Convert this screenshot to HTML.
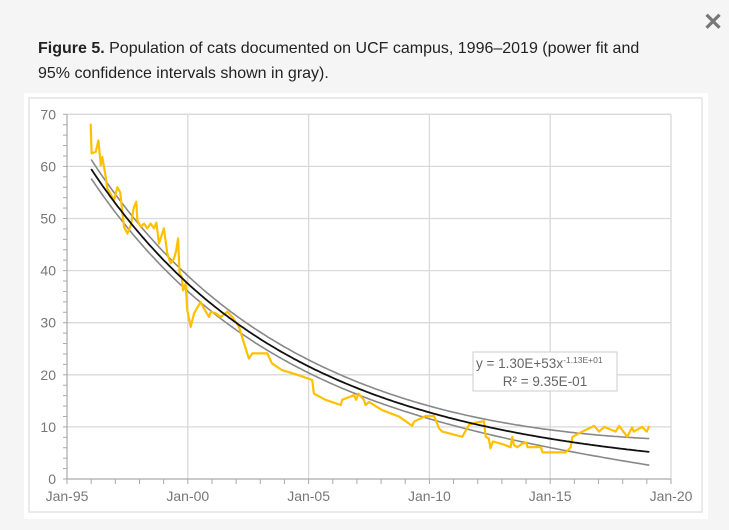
<!DOCTYPE html>
<html><head><meta charset="utf-8"><style>
html,body{margin:0;padding:0;width:729px;height:530px;background:#f5f5f5;overflow:hidden;font-family:"Liberation Sans",Arial,sans-serif}
#cap{position:absolute;left:38px;top:36px;width:615px;font-size:16px;line-height:25px;color:#222}
#close{position:absolute;left:703px;top:8px;font-size:24px;color:#777;font-weight:bold}
#panel{position:absolute;left:24px;top:93px;width:684px;height:426px;background:#fff}
svg{position:absolute;left:0;top:0}
</style></head><body>
<div id="close">✕</div>
<div id="cap"><b>Figure 5.</b> Population of cats documented on UCF campus, 1996–2019 (power fit and 95% confidence intervals shown in gray).</div>
<div id="panel"></div>
<svg id="chart" width="729" height="530"></svg>
<script>
const yTicks=[0,10,20,30,40,50,60,70];
const xTickYears=[1995,2000,2005,2010,2015,2020];
const xTickLabels=["Jan-95","Jan-00","Jan-05","Jan-10","Jan-15","Jan-20"];
const catDates=[1995.98,1996.02,1996.19,1996.3,1996.4,1996.46,1996.6,1996.67,1996.95,1997.08,1997.2,1997.36,1997.5,1997.64,1997.77,1997.87,1997.91,1998.05,1998.19,1998.32,1998.46,1998.6,1998.7,1998.81,1999.01,1999.15,1999.29,1999.43,1999.52,1999.6,1999.64,1999.66,1999.75,1999.8,1999.91,1999.98,2000.12,2000.26,2000.53,2000.67,2000.88,2000.95,2001.15,2001.36,2001.64,2001.84,2002.12,2002.33,2002.53,2002.67,2003.29,2003.48,2003.9,2004.6,2005.15,2005.22,2005.7,2006.33,2006.39,2006.88,2006.97,2007.06,2007.29,2007.36,2007.5,2008.05,2008.74,2009.29,2009.36,2009.84,2010.19,2010.4,2010.53,2011.36,2011.64,2011.91,2012.26,2012.33,2012.46,2012.53,2012.63,2013.02,2013.36,2013.43,2013.5,2013.64,2013.85,2014.01,2014.06,2014.61,2014.68,2015.64,2015.85,2015.92,2016.33,2016.82,2017.02,2017.23,2017.71,2017.85,2018.19,2018.39,2018.46,2018.8,2019.0,2019.1];
const catCounts=[68.2,62.5,62.8,65,60.2,61.8,58,55.8,53.5,56,55,48.4,47.1,48.7,52.2,53.2,49.7,48.4,49,48.1,49,48.1,49.2,45.2,48.1,43.3,41.4,42.3,43.9,46.2,41.4,39.4,38.8,36.2,37.5,32.4,29.2,31.8,34,32.7,31.1,32.1,31.8,31.1,32.1,31.1,29.2,26,23.1,24.1,24.1,22.2,20.9,19.9,19,16.4,15.2,14.2,15.2,16.1,15.2,16.4,15.2,14.2,14.8,13.2,12,10.2,11,12.1,12.1,9.7,9.1,8.1,10.4,10.8,11.1,8.1,7.8,5.9,7.2,6.7,6.1,8.1,6.5,6.1,6.8,7,6.1,6.1,5.1,5.1,6.1,8.1,9.1,10.2,9.1,10,9.1,10.2,8.1,9.9,9.1,10,9.1,10.2];
const fitLnA=122.34, fitB=-11.3;
const fitStart=1996.0, fitEnd=2019.1;

const svg=document.getElementById('chart');const NS='http://www.w3.org/2000/svg';
const X0=67,X1=671,Y0=479,Y1=114.3;
const xs=t=>X0+(t-1995)/25*(X1-X0);
const ys=v=>Y0-v/70*(Y0-Y1);
function mk(tag,a){const e=document.createElementNS(NS,tag);for(const k in a)e.setAttribute(k,a[k]);svg.appendChild(e);return e;}
let e=mk('rect',{x:29,y:98,width:673,height:414,fill:'none',stroke:'#e4e4e4','stroke-width':1.5});

yTicks.forEach(v=>{if(v>0){const g=mk('line',{x1:X0,x2:X1,y1:ys(v),y2:ys(v),stroke:'#d9d9d9','stroke-width':1.3});}
 const t=mk('text',{x:56,y:ys(v)+5,'text-anchor':'end','font-size':14,fill:'#777'});t.textContent=v;});
for(let v=0;v<=70;v+=2){const l=mk('line',{x1:X0-4,x2:X0,y1:ys(v),y2:ys(v),stroke:'#aaa','stroke-width':1});}
xTickYears.forEach((yr,i)=>{if(i>0){const g=mk('line',{x1:xs(yr),x2:xs(yr),y1:Y1,y2:Y0,stroke:'#d9d9d9','stroke-width':1.3});}
 const t=mk('text',{x:xs(yr),y:Y0+22,'text-anchor':'middle','font-size':14,fill:'#777'});t.textContent=xTickLabels[i];});
for(let yr=1995;yr<=2020;yr++){const l=mk('line',{x1:xs(yr),x2:xs(yr),y1:Y0,y2:Y0+5,stroke:'#aaa','stroke-width':1});}
e=mk('line',{x1:X0,x2:X0,y1:Y1,y2:Y0,stroke:'#aaa','stroke-width':1.2});
e=mk('line',{x1:X0,x2:X1,y1:Y0,y2:Y0,stroke:'#aaa','stroke-width':1.2});
function fit(t){const serial=(t-1900)*365.25+1;return Math.exp(fitLnA+fitB*Math.log(serial));}
function hw(t){const d=t-2008.5;return 1.2+(d<0?0.004:0.012)*d*d;}
function curve(f){let p='';for(let t=fitStart;t<=fitEnd+1e-6;t+=0.1){p+=(p?'L':'M')+xs(t).toFixed(1)+','+ys(f(t)).toFixed(1);}return p;}
e=mk('path',{d:curve(t=>fit(t)+hw(t)),fill:'none',stroke:'#888','stroke-width':1.6});
e=mk('path',{d:curve(t=>fit(t)-hw(t)),fill:'none',stroke:'#888','stroke-width':1.6});
let p='';catDates.forEach((t,i)=>{p+=(i?'L':'M')+xs(t).toFixed(1)+','+ys(catCounts[i]).toFixed(1);});
e=mk('path',{d:p,fill:'none',stroke:'#ffc000','stroke-width':2.2,'stroke-linejoin':'round'});
e=mk('path',{d:curve(fit),fill:'none',stroke:'#111','stroke-width':1.8});
e=mk('rect',{x:473,y:352,width:144,height:39,fill:'#fff',stroke:'#ccc','stroke-width':1});
const t1=mk('text',{x:476,y:368,'font-size':13.5,fill:'#666'});t1.innerHTML='y = 1.30E+53x<tspan font-size="8.5" dy="-5">-1.13E+01</tspan>';
const t2=mk('text',{x:545,y:386,'text-anchor':'middle','font-size':13.5,fill:'#666'});t2.textContent='R² = 9.35E-01';
</script>
</body></html>
